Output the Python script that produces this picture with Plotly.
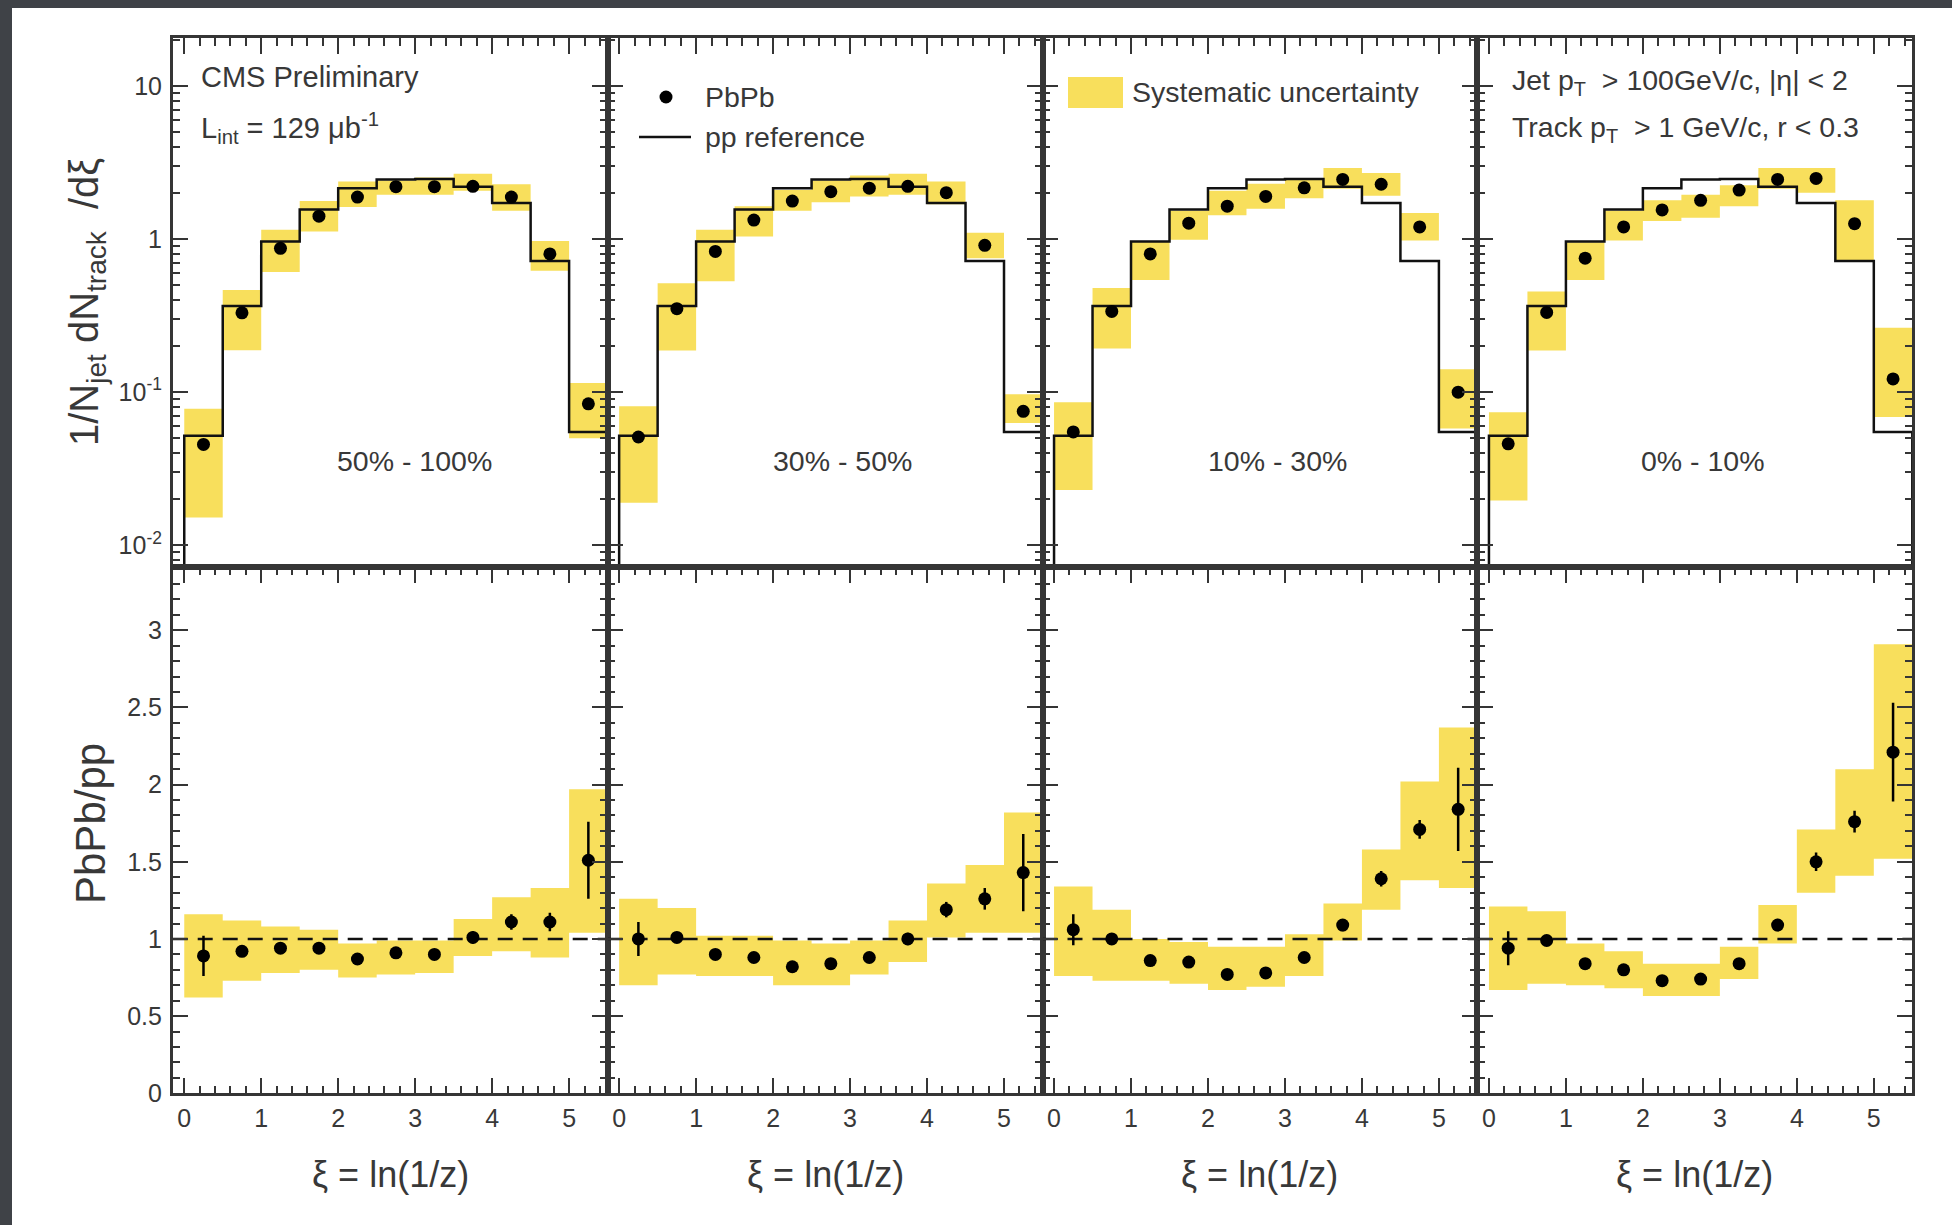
import plotly.graph_objects as go

# ---------------- data ----------------
xi_edges = [0.0, 0.5, 1.0, 1.5, 2.0, 2.5, 3.0, 3.5, 4.0, 4.5, 5.0, 5.5]
xi_centers = [0.25, 0.75, 1.25, 1.75, 2.25, 2.75, 3.25, 3.75, 4.25, 4.75, 5.25]
centrality_labels = ["50% - 100%", "30% - 50%", "10% - 30%", "0% - 10%"]

pp_reference = [0.052, 0.365, 0.965, 1.56, 2.15, 2.45, 2.47, 2.20, 1.72, 0.72, 0.055]

# PbPb spectra (upper row)
pbpb_50_100 = [0.0456, 0.33, 0.87, 1.41, 1.88, 2.20, 2.20, 2.21, 1.88, 0.80, 0.084]
pbpb_30_50 = [0.051, 0.351, 0.83, 1.33, 1.77, 2.04, 2.15, 2.21, 2.01, 0.91, 0.075]
pbpb_10_30 = [0.055, 0.337, 0.80, 1.27, 1.64, 1.90, 2.16, 2.45, 2.28, 1.20, 0.100]
pbpb_0_10 = [0.046, 0.332, 0.75, 1.20, 1.55, 1.79, 2.09, 2.45, 2.49, 1.26, 0.122]

pbpb_sys_lo_50_100 = [0.0152, 0.188, 0.61, 1.12, 1.62, 1.95, 1.95, 2.07, 1.53, 0.62, 0.050]
pbpb_sys_hi_50_100 = [0.078, 0.465, 1.15, 1.77, 2.38, 2.41, 2.52, 2.67, 2.28, 0.97, 0.115]
pbpb_sys_lo_30_50 = [0.019, 0.187, 0.53, 1.04, 1.53, 1.74, 1.90, 1.95, 1.69, 0.75, 0.063]
pbpb_sys_hi_30_50 = [0.081, 0.515, 1.15, 1.64, 2.09, 2.41, 2.60, 2.67, 2.38, 1.10, 0.097]
pbpb_sys_lo_10_30 = [0.023, 0.193, 0.54, 0.99, 1.43, 1.58, 1.85, 2.13, 1.92, 0.98, 0.058]
pbpb_sys_hi_10_30 = [0.086, 0.48, 0.96, 1.53, 2.07, 2.30, 2.50, 2.91, 2.70, 1.48, 0.141]
pbpb_sys_lo_0_10 = [0.0196, 0.187, 0.54, 0.98, 1.31, 1.38, 1.64, 2.13, 2.01, 0.72, 0.069]
pbpb_sys_hi_0_10 = [0.074, 0.455, 0.955, 1.53, 1.79, 1.95, 2.25, 2.91, 2.91, 1.79, 0.264]

# PbPb / pp ratios (lower row)
ratio_50_100 = [0.89, 0.92, 0.94, 0.94, 0.87, 0.91, 0.90, 1.01, 1.11, 1.11, 1.51]
ratio_30_50 = [1.00, 1.01, 0.90, 0.88, 0.82, 0.84, 0.88, 1.00, 1.19, 1.26, 1.43]
ratio_10_30 = [1.06, 1.00, 0.86, 0.85, 0.77, 0.78, 0.88, 1.09, 1.39, 1.71, 1.84]
ratio_0_10 = [0.94, 0.99, 0.84, 0.80, 0.73, 0.74, 0.84, 1.09, 1.50, 1.76, 2.21]

ratio_stat_50_100 = [0.13, 0.03, 0.03, 0.03, 0.03, 0.03, 0.03, 0.04, 0.05, 0.06, 0.25]
ratio_stat_30_50 = [0.11, 0.03, 0.03, 0.03, 0.03, 0.03, 0.03, 0.04, 0.05, 0.07, 0.25]
ratio_stat_10_30 = [0.10, 0.03, 0.03, 0.03, 0.03, 0.03, 0.03, 0.04, 0.05, 0.06, 0.27]
ratio_stat_0_10 = [0.11, 0.03, 0.03, 0.03, 0.03, 0.03, 0.03, 0.04, 0.06, 0.07, 0.32]

ratio_sys_lo_50_100 = [0.62, 0.73, 0.78, 0.80, 0.75, 0.77, 0.78, 0.89, 0.92, 0.88, 1.04]
ratio_sys_hi_50_100 = [1.16, 1.12, 1.08, 1.06, 0.97, 0.99, 0.99, 1.13, 1.27, 1.33, 1.97]
ratio_sys_lo_30_50 = [0.70, 0.77, 0.76, 0.76, 0.70, 0.70, 0.77, 0.85, 1.01, 1.04, 1.04]
ratio_sys_hi_30_50 = [1.26, 1.20, 1.02, 1.02, 0.99, 0.97, 0.99, 1.12, 1.36, 1.48, 1.82]
ratio_sys_lo_10_30 = [0.76, 0.73, 0.73, 0.71, 0.67, 0.69, 0.76, 0.99, 1.19, 1.38, 1.33]
ratio_sys_hi_10_30 = [1.34, 1.19, 1.00, 0.98, 0.95, 0.95, 1.03, 1.23, 1.58, 2.02, 2.37]
ratio_sys_lo_0_10 = [0.67, 0.71, 0.70, 0.68, 0.63, 0.63, 0.74, 0.97, 1.30, 1.41, 1.52]
ratio_sys_hi_0_10 = [1.21, 1.18, 0.97, 0.92, 0.84, 0.84, 0.95, 1.22, 1.71, 2.10, 2.91]

spectra = [pbpb_50_100, pbpb_30_50, pbpb_10_30, pbpb_0_10]
spec_lo = [pbpb_sys_lo_50_100, pbpb_sys_lo_30_50, pbpb_sys_lo_10_30, pbpb_sys_lo_0_10]
spec_hi = [pbpb_sys_hi_50_100, pbpb_sys_hi_30_50, pbpb_sys_hi_10_30, pbpb_sys_hi_0_10]
ratios = [ratio_50_100, ratio_30_50, ratio_10_30, ratio_0_10]
ratio_stat = [ratio_stat_50_100, ratio_stat_30_50, ratio_stat_10_30, ratio_stat_0_10]
ratio_lo = [ratio_sys_lo_50_100, ratio_sys_lo_30_50, ratio_sys_lo_10_30, ratio_sys_lo_0_10]
ratio_hi = [ratio_sys_hi_50_100, ratio_sys_hi_30_50, ratio_sys_hi_10_30, ratio_sys_hi_0_10]

# ---------------- layout geometry (pixels) ----------------
W, H = 1952, 1225
FRAME_L = 172.7
PANEL_W = 434.9
Y_TOP, Y_MID, Y_BOT = 38.0, 567.0, 1093.3
X_RANGE = [-0.15, 5.5]
LOG_RANGE = [-2.1415, 1.313]
RATIO_RANGE = [0, 3.41]

FONT = "Liberation Sans, Arial, sans-serif"
TXT = "#383838"
AXC = "#353535"
YELLOW = "#f8df5c"
BG_DARK = "#3f4247"


def px(x):
    return x / W


def py(y):
    return 1 - y / H


def boxes(edges, lo, hi):
    xs, ys = [], []
    for i in range(len(lo)):
        x0, x1 = edges[i], edges[i + 1]
        xs += [x0, x1, x1, x0, x0, None]
        ys += [lo[i], lo[i], hi[i], hi[i], lo[i], None]
    return xs, ys


fig = go.Figure()

for i in range(4):
    xt, yt = f"x{i + 1}", f"y{i + 1}"
    xb, yb = f"x{i + 5}", f"y{i + 5}"

    # ---- upper: spectra ----
    bx, by = boxes(xi_edges, spec_lo[i], spec_hi[i])
    fig.add_trace(go.Scatter(x=bx, y=by, xaxis=xt, yaxis=yt, mode="lines",
                             fill="toself", fillcolor=YELLOW,
                             line=dict(width=0, color=YELLOW), hoverinfo="skip"))
    step_x = [xi_edges[0]] + xi_edges[:-1] + [xi_edges[-1], xi_edges[-1]]
    step_y = [1e-3] + pp_reference + [pp_reference[-1], 1e-3]
    fig.add_trace(go.Scatter(x=step_x, y=step_y, xaxis=xt, yaxis=yt, mode="lines",
                             line=dict(shape="hv", color="#111111", width=2.5),
                             hoverinfo="skip"))
    fig.add_trace(go.Scatter(x=xi_centers, y=spectra[i], xaxis=xt, yaxis=yt,
                             mode="markers",
                             marker=dict(symbol="circle", size=13, color="black")))

    # ---- lower: ratios ----
    bx, by = boxes(xi_edges, ratio_lo[i], ratio_hi[i])
    fig.add_trace(go.Scatter(x=bx, y=by, xaxis=xb, yaxis=yb, mode="lines",
                             fill="toself", fillcolor=YELLOW,
                             line=dict(width=0, color=YELLOW), hoverinfo="skip"))
    fig.add_trace(go.Scatter(x=X_RANGE, y=[1, 1], xaxis=xb, yaxis=yb, mode="lines",
                             line=dict(color="#111111", width=2.5, dash="15px,10px"),
                             hoverinfo="skip"))
    fig.add_trace(go.Scatter(x=xi_centers, y=ratios[i], xaxis=xb, yaxis=yb,
                             mode="markers",
                             marker=dict(symbol="circle", size=13, color="black"),
                             error_y=dict(type="data", array=ratio_stat[i], width=0,
                                          thickness=2.5, color="black")))

common = dict(showline=True, linecolor=AXC, linewidth=2.5, ticks="inside",
              tickcolor=AXC, tickwidth=2, ticklen=16, showgrid=False, zeroline=False,
              automargin=False,
              tickfont=dict(family=FONT, size=25, color=TXT))

x_major = [0, 1, 2, 3, 4, 5]
x_minor = [k / 5 for k in range(1, 28) if k % 5 != 0]
log_major = [0.01, 0.1, 1, 10]
log_text = ["10<sup>-2</sup>", "10<sup>-1</sup>", "1", "10"]
log_minor = [m * 10 ** e for e in (-3, -2, -1, 0, 1) for m in range(2, 10)]
r_major = [0, 0.5, 1, 1.5, 2, 2.5, 3]
r_text = ["0", "0.5", "1", "1.5", "2", "2.5", "3"]
r_minor = [k / 10 for k in range(1, 35) if k % 5 != 0]

minor_style = dict(ticks="inside", ticklen=8, tickwidth=2, tickcolor=AXC)

layout = dict(
    width=W, height=H, margin=dict(l=0, r=0, t=0, b=0, pad=0, autoexpand=False),
    autosize=False, template="none",
    paper_bgcolor="white", plot_bgcolor="white", showlegend=False,
)

for i in range(4):
    xd = [px(FRAME_L + i * PANEL_W), px(FRAME_L + (i + 1) * PANEL_W)]
    layout[f"xaxis{i + 1}"] = dict(common, domain=xd, range=X_RANGE, anchor=f"y{i + 1}",
                                   side="top", mirror=True, showticklabels=False,
                                   tickmode="array", tickvals=x_major,
                                   minor=dict(minor_style, tickmode="array", tickvals=x_minor))
    layout[f"yaxis{i + 1}"] = dict(common, domain=[py(Y_MID), py(Y_TOP)], type="log",
                                   range=LOG_RANGE, anchor=f"x{i + 1}", mirror="allticks",
                                   showticklabels=(i == 0), tickmode="array",
                                   tickvals=log_major, ticktext=log_text,
                                   ticklabelstandoff=3,
                                   minor=dict(minor_style, tickmode="array", tickvals=log_minor))
    layout[f"xaxis{i + 5}"] = dict(common, domain=xd, range=X_RANGE, anchor=f"y{i + 5}",
                                   side="bottom", mirror="allticks", showticklabels=True,
                                   tickmode="array", tickvals=x_major,
                                   ticktext=[str(v) for v in x_major],
                                   ticklabelstandoff=1,
                                   minor=dict(minor_style, tickmode="array", tickvals=x_minor))
    layout[f"yaxis{i + 5}"] = dict(common, domain=[py(Y_BOT), py(Y_MID)],
                                   range=RATIO_RANGE, anchor=f"x{i + 5}", mirror="allticks",
                                   showticklabels=(i == 0), tickmode="array",
                                   tickvals=r_major, ticktext=r_text,
                                   ticklabelstandoff=3,
                                   minor=dict(minor_style, tickmode="array", tickvals=r_minor))

fig.update_layout(**layout)

# dark slide border (left and top strips)
fig.add_shape(type="rect", xref="paper", yref="paper", x0=0, x1=px(12), y0=0, y1=1,
              fillcolor=BG_DARK, line=dict(width=0), layer="below")
fig.add_shape(type="rect", xref="paper", yref="paper", x0=0, x1=1, y0=py(8), y1=1,
              fillcolor=BG_DARK, line=dict(width=0), layer="below")


def note(text, x, y, size=28, xanchor="left", angle=0):
    fig.add_annotation(text=text, x=px(x), y=py(y), xref="paper", yref="paper",
                       showarrow=False, xanchor=xanchor, yanchor="middle",
                       textangle=angle, font=dict(family=FONT, size=size, color=TXT))


# axis titles
note("1/N<sub>jet</sub> dN<sub>track</sub>&#160; /dξ", 87, 302, size=40, xanchor="center", angle=-90)
note("PbPb/pp", 90, 824, size=42, xanchor="center", angle=-90)
for i in range(4):
    note("ξ = ln(1/z)", FRAME_L + PANEL_W * (i + 0.5), 1174, size=36, xanchor="center")

# centrality labels
cent_x = [414.6, 842.0, 1277.0, 1703.0]
for i in range(4):
    note(centrality_labels[i], cent_x[i], 461, size=28.5, xanchor="center")

# panel texts
note("CMS Preliminary", 199, 77, size=29)
note("L<sub>int</sub> = 129 μb<sup>-1</sup>", 199, 128, size=29)
note("PbPb", 703, 97, size=28.5)
note("pp reference", 703, 137, size=28.5)
note("Systematic uncertainty", 1130, 92, size=28.5)
note("Jet p<sub>T</sub>&#160; &gt; 100GeV/c, |η| &lt; 2", 1510, 82, size=28.5)
note("Track p<sub>T</sub>&#160; &gt; 1 GeV/c, r &lt; 0.3", 1510, 129, size=28.5)

# legend keys
fig.add_shape(type="circle", xref="paper", yref="paper",
              x0=px(666 - 6.5), x1=px(666 + 6.5), y0=py(97 + 6.5), y1=py(97 - 6.5),
              fillcolor="black", line=dict(width=0))
fig.add_shape(type="line", xref="paper", yref="paper",
              x0=px(639), x1=px(691), y0=py(137), y1=py(137),
              line=dict(color="#111111", width=2.5))
fig.add_shape(type="rect", xref="paper", yref="paper",
              x0=px(1068), x1=px(1123), y0=py(108), y1=py(77),
              fillcolor=YELLOW, line=dict(width=0))

PAGE_CSS = (
    "document.body.style.margin='0px';document.body.style.padding='0px';"
    "document.documentElement.style.overflow='hidden';document.body.style.overflow='hidden';"
)

fig.write_html("out.html", config={"displayModeBar": False}, post_script=PAGE_CSS)
